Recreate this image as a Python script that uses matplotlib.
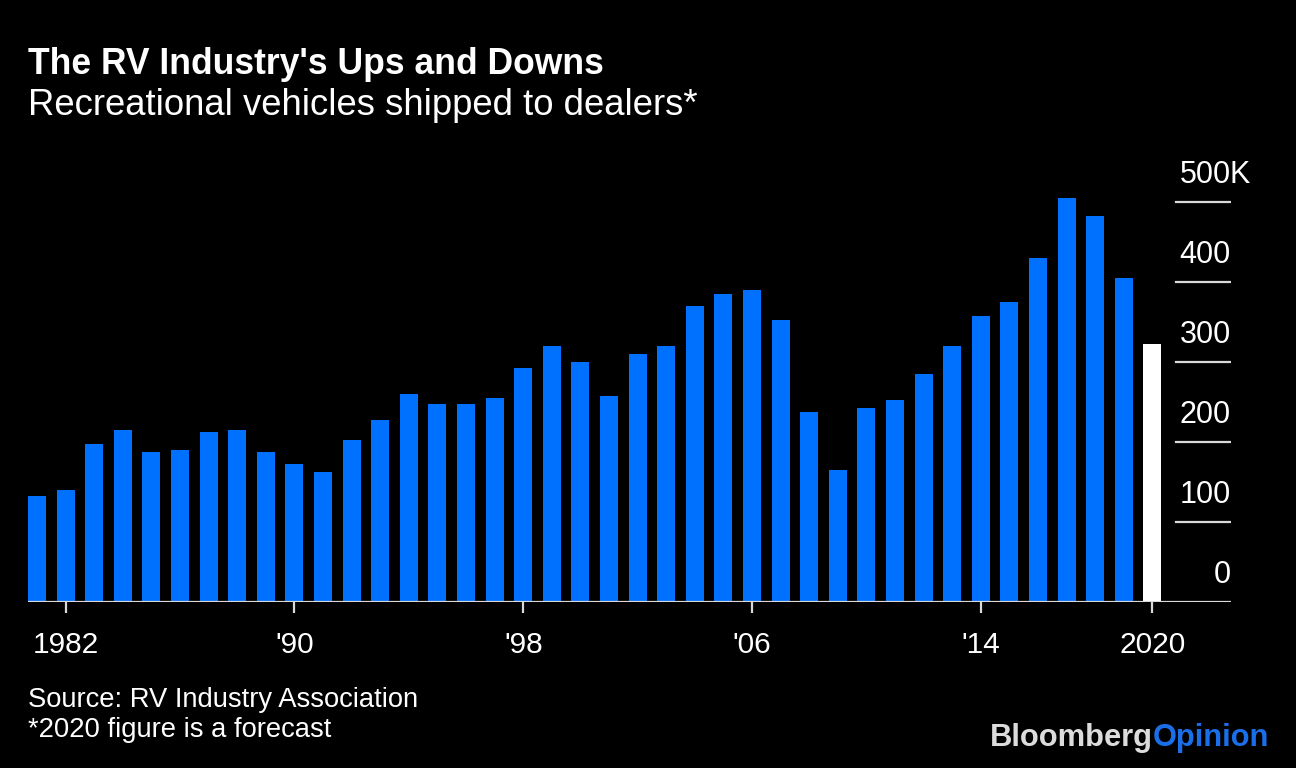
import matplotlib
matplotlib.use("Agg")
import matplotlib.pyplot as plt
import matplotlib.transforms as mtransforms

years = list(range(1981, 2021))
shipments = [132.5, 140, 197.5, 215, 187.5, 190, 212.5, 215, 187.5, 172.5,
             162.5, 202.5, 227.5, 260, 247.5, 247.5, 255, 292.5, 320, 300,
             257.5, 310, 320, 370, 385, 390, 352.5, 237.5, 165, 242.5,
             252.5, 285, 320, 357.5, 375, 430, 505, 482.5, 405, 322.5]
xtick_years = [1982, 1990, 1998, 2006, 2014, 2020]
xtick_labels = ["1982", "'90", "'98", "'06", "'14", "2020"]
ytick_values = [0, 100, 200, 300, 400, 500]
ytick_labels = ["0", "100", "200", "300", "400", "500"]

BLUE = "#0070ff"
GRID = "#d9d9d9"
W, H = 1296, 768
plt.rcParams['font.family'] = ['Liberation Sans', 'DejaVu Sans']

fig = plt.figure(figsize=(W / 100, H / 100), dpi=100, facecolor="black")
left_px, right_px, base_px = 28, 1231, 602
ymax = 550
top_px = base_px - ymax * 0.8
ax = fig.add_axes([left_px / W, 1 - base_px / H, (right_px - left_px) / W, (base_px - top_px) / H])
ax.set_facecolor("black")

colors = [BLUE] * (len(years) - 1) + ["white"]
ax.bar(years, shipments, width=0.63, color=colors, zorder=2)

ax.set_xlim(1981 - 0.315, 1981 + (right_px - 37) / 28.6)
ax.set_ylim(0, ymax)

for s in ax.spines.values():
    s.set_visible(False)
ax.set_yticks([])
ax.set_xticks(xtick_years)
ax.set_xticklabels(xtick_labels, color="white", fontsize=21.5)
ax.tick_params(axis="x", length=8, width=1.6, color=GRID, pad=13)

gx0 = (1176 - left_px) / (right_px - left_px)
for v in ytick_values:
    if v == 0:
        ax.axhline(0, xmin=0, xmax=1, color=GRID, lw=1.6, zorder=3)
    else:
        ax.axhline(v, xmin=gx0, xmax=1, color=GRID, lw=1.6, zorder=3)

trans = mtransforms.blended_transform_factory(ax.transAxes, ax.transData)
for v, lab in zip(ytick_values, ytick_labels):
    ax.annotate(lab, xy=(1.0, v), xycoords=trans, xytext=(0, 14), textcoords="offset points",
                ha="right", va="baseline", color="white", fontsize=22)
    if v == 500:
        ax.annotate("K", xy=(1.0, v), xycoords=trans, xytext=(-1, 14), textcoords="offset points",
                    ha="left", va="baseline", color="white", fontsize=22)

fig.text(28 / W, 1 - 74 / H, "The RV Industry's Ups and Downs", color="white",
         fontsize=25.6, fontweight="bold", ha="left", va="baseline")
fig.text(28 / W, 1 - 115 / H, "Recreational vehicles shipped to dealers*", color="white",
         fontsize=26.3, ha="left", va="baseline")
fig.text(28 / W, 1 - 707 / H, "Source: RV Industry Association", color="white",
         fontsize=19.7, ha="left", va="baseline")
fig.text(28 / W, 1 - 737 / H, "*2020 figure is a forecast", color="white",
         fontsize=19.7, ha="left", va="baseline")

t1 = fig.text(990 / W, 1 - 746 / H, "Bloomberg", color="#dcdcdc", fontsize=22.2,
              fontweight="bold", ha="left", va="baseline")
fig.canvas.draw()
bb = t1.get_window_extent()
fig.text(bb.x1 / W, 1 - 746 / H, "Opinion", color="#1a6fe8", fontsize=22.2,
         fontweight="bold", ha="left", va="baseline")

fig.savefig("out.png", dpi=100, facecolor="black")
